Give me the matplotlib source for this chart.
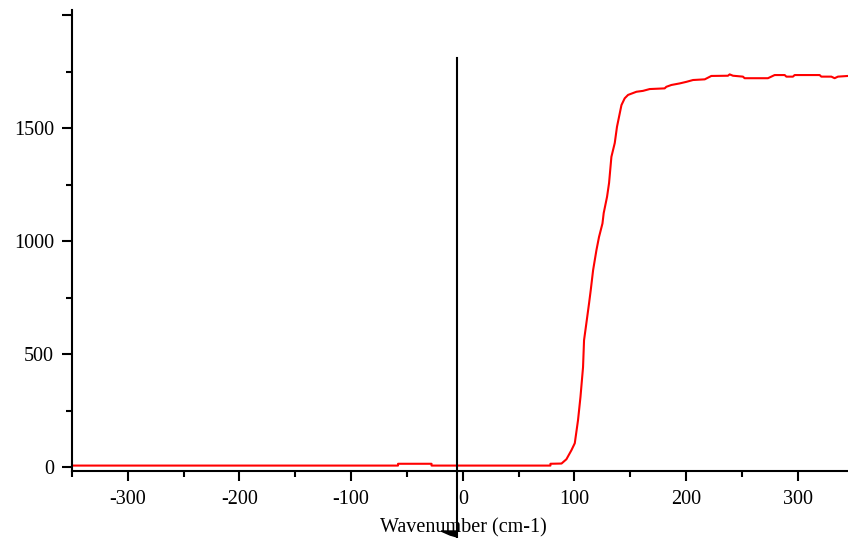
import matplotlib
matplotlib.use("Agg")
import matplotlib.pyplot as plt
from matplotlib.patches import Polygon
from matplotlib.ticker import MultipleLocator

plt.rcParams['font.family'] = ['Liberation Serif', 'DejaVu Serif']
plt.rcParams['axes.unicode_minus'] = False

# Spectrum trace (wavenumber, intensity)
wavenumber = [-350, -58, -58, -28, -28, 78.5, 78.5, 88.4, 92.8, 97.3, 100.3, 103.2,
              105.4, 107.7, 108.6, 110.7, 113.1, 114.6, 116.7, 119.7, 122.0, 125.1,
              126.2, 129.2, 131.0, 133.1, 136.1, 138.1, 140.6, 142.1, 145.0, 148.0,
              155.5, 161.4, 167.4, 180.8, 182.3, 186.8, 194.3, 200.3, 206.2, 216.7,
              222.6, 237.5, 239.0, 242.0, 250.9, 252.4, 273.3, 279.3, 288.3, 289.8,
              295.7, 297.2, 319.6, 321.1, 330.1, 333.0, 336.0, 345.0]
intensity = [7, 7, 15, 15, 7, 7, 15, 16, 35, 75, 106, 208,
             311, 443, 562, 638, 726, 784, 872, 961, 1019, 1079,
             1125, 1197, 1258, 1374, 1435, 1507, 1567, 1603, 1633, 1648,
             1662, 1666, 1674, 1677, 1684, 1692, 1699, 1706, 1714, 1717,
             1732, 1733, 1739, 1733, 1729, 1722, 1722, 1736, 1736, 1729,
             1729, 1736, 1736, 1729, 1729, 1722, 1729, 1732]

# cursor marker line
cursor_x = -5.4
cursor_top = 1811
cursor_bottom = -314

fig = plt.figure(figsize=(8.48, 5.38), dpi=100)
ax = fig.add_axes([72 / 848, 1 - 471 / 538, 1 - 72 / 848, (471 - 10) / 538])

ax.plot(wavenumber, intensity, color='#ff0000', lw=1.5)
ax.plot([cursor_x, cursor_x], [cursor_top, cursor_bottom], color='black', lw=1.5,
        clip_on=False, zorder=5)

ax.set_xlim(-350, 345)
ax.set_ylim(-17, 2024)

ax.xaxis.set_major_locator(MultipleLocator(100))
ax.xaxis.set_minor_locator(MultipleLocator(50))
ax.yaxis.set_major_locator(MultipleLocator(500))
ax.yaxis.set_minor_locator(MultipleLocator(250))
ax.set_yticks([0, 500, 1000, 1500, 2000])
ax.set_yticklabels(['0', '500', '1000', '1500', ''])

for side in ['top', 'right']:
    ax.spines[side].set_visible(False)
for side in ['left', 'bottom']:
    ax.spines[side].set_linewidth(1.5)

ax.tick_params(axis='both', which='major', length=7, width=1.5, labelsize=14.5,
               direction='out')
ax.tick_params(axis='both', which='minor', length=4, width=1.5, direction='out')
ax.tick_params(axis='x', pad=7)
ax.tick_params(axis='y', pad=6)

fig.text(463 / 848, 1 - 528 / 538, 'Wavenumber (cm-1)', ha='center', va='center',
         fontsize=14.5)

# small pointer head at the foot of the cursor line
head = [(441, 531), (457, 531), (457, 537), (450, 535)]
fig.patches.append(Polygon([(px / 848, 1 - py / 538) for px, py in head], closed=True,
                           color='black', transform=fig.transFigure, figure=fig))

fig.savefig('out.png', dpi=100)
